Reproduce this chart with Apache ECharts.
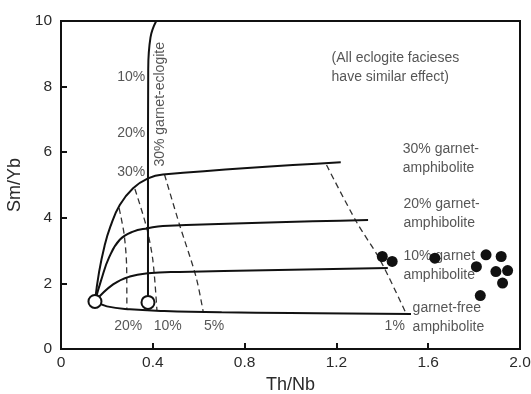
<!DOCTYPE html>
<html>
<head>
<meta charset="utf-8">
<script src="https://cdn.jsdelivr.net/npm/echarts@6/dist/echarts.min.js"></script>
<style>
  html, body { margin: 0; padding: 0; background: #fff; }
  #chart { width: 531px; height: 394px; }
</style>
</head>
<body>
<div id="chart"></div>
<script>
// Melting curves: Th/Nb (x) vs Sm/Yb (y)
const xTicks = [0, 0.4, 0.8, 1.2, 1.6, 2.0];
const yTicks = [0, 2, 4, 6, 8, 10];

const sourcePoints = [[0.148, 1.45], [0.379, 1.42]];

const curveGarnetFree = [[0.148, 1.45], [0.2, 1.3], [0.3, 1.21], [0.45, 1.16], [0.7, 1.12], [1.0, 1.1], [1.525, 1.07]];
const curve10Garnet = [[0.148, 1.45], [0.227, 1.97], [0.30, 2.21], [0.379, 2.31], [0.516, 2.35], [1.424, 2.47]];
const curve20Garnet = [[0.148, 1.45], [0.175, 2.1], [0.21, 2.8], [0.256, 3.33], [0.314, 3.58], [0.379, 3.68], [0.444, 3.75], [1.338, 3.93]];
const curve30Garnet = [[0.148, 1.45], [0.166, 2.35], [0.19, 3.15], [0.215, 3.73], [0.256, 4.39], [0.314, 4.9], [0.379, 5.2], [0.444, 5.32], [1.219, 5.69]];
const curveEclogite = [[0.379, 1.42], [0.379, 5.0], [0.38, 8.5], [0.39, 9.5], [0.415, 10.0]];

const melt20 = [[0.253, 4.3], [0.275, 3.5], [0.286, 2.5], [0.287, 1.2]];
const melt10 = [[0.322, 4.88], [0.372, 3.73], [0.40, 2.72], [0.418, 1.18]];
const melt5 = [[0.451, 5.32], [0.516, 3.8], [0.588, 2.21], [0.62, 1.12]];
const melt1 = [[1.157, 5.61], [1.287, 3.88], [1.39, 2.72], [1.503, 1.09]];

const samples = [
  [1.400, 2.82], [1.443, 2.67], [1.629, 2.77], [1.852, 2.87], [1.810, 2.51],
  [1.918, 2.82], [1.895, 2.36], [1.946, 2.39], [1.924, 2.01], [1.827, 1.63]
];

// Annotations placed in data coordinates: [x, y, text, align]
const notes = [
  [1.179, 8.57, '(All eclogite facieses\nhave similar effect)', 'left'],
  [1.489, 5.79, '30% garnet-\namphibolite', 'left'],
  [1.492, 4.14, '20% garnet-\namphibolite', 'left'],
  [1.492, 2.53, '10% garnet\namphibolite', 'left'],
  [1.532, 0.96, 'garnet-free\namphibolite', 'left'],
  [1.410, 0.71, '1%', 'left'],
  [0.293, 0.71, '20%', 'center'],
  [0.465, 0.71, '10%', 'center'],
  [0.667, 0.71, '5%', 'center'],
  [0.367, 8.28, '10%', 'right'],
  [0.367, 6.57, '20%', 'right'],
  [0.367, 5.40, '30%', 'right']
];
const eclogiteLabel = [[0.431, 7.46, '30% garnet-eclogite']];

const FONT = '"Liberation Sans", Arial, sans-serif';
const TEXT = '#2a2a2a';

function solid(data) {
  return {
    type: 'line', data: data, smooth: 0.45, symbol: 'none',
    lineStyle: { color: '#111', width: 2, opacity: 1 }, z: 3, silent: true
  };
}
function dashed(data) {
  return {
    type: 'line', data: data, smooth: 0.3, symbol: 'none',
    lineStyle: { color: '#333', width: 1.3, type: [6, 4], opacity: 1 }, z: 2, silent: true
  };
}

const chart = echarts.init(document.getElementById('chart'), null, { renderer: 'canvas' });
chart.setOption({
  animation: false,
  backgroundColor: '#fff',
  grid: {
    left: 61, top: 21, right: 11, bottom: 45, containLabel: false, outerBoundsMode: 'none',
    show: true, borderColor: '#111', borderWidth: 2
  },
  xAxis: {
    type: 'value', min: xTicks[0], max: xTicks[xTicks.length - 1], interval: 0.4,
    name: 'Th/Nb', nameLocation: 'middle', nameGap: 27,
    nameTextStyle: { fontFamily: FONT, fontSize: 18, color: TEXT },
    axisLine: { lineStyle: { color: '#111', width: 2 } },
    axisTick: { inside: true, length: 6, lineStyle: { color: '#111', width: 2 } },
    axisLabel: { fontFamily: FONT, fontSize: 15.5, color: TEXT, margin: 6,
      formatter: v => (v === 0 ? '0' : v.toFixed(1)) },
    splitLine: { show: false }
  },
  yAxis: {
    type: 'value', min: yTicks[0], max: yTicks[yTicks.length - 1], interval: 2,
    name: 'Sm/Yb', nameLocation: 'middle', nameGap: 28,
    nameTextStyle: { fontFamily: FONT, fontSize: 18, color: TEXT },
    axisLine: { lineStyle: { color: '#111', width: 2 } },
    axisTick: { inside: true, length: 6, lineStyle: { color: '#111', width: 2 } },
    axisLabel: { fontFamily: FONT, fontSize: 15.5, color: TEXT, margin: 9 },
    splitLine: { show: false }
  },
  series: [
    dashed(melt20), dashed(melt10), dashed(melt5), dashed(melt1),
    solid(curveGarnetFree), solid(curve10Garnet), solid(curve20Garnet), solid(curve30Garnet),
    solid(curveEclogite),
    {
      type: 'scatter', data: sourcePoints, symbol: 'circle', symbolSize: 13,
      itemStyle: { color: '#fff', borderColor: '#111', borderWidth: 2, opacity: 1 }, z: 5, silent: true
    },
    {
      type: 'scatter', data: samples, symbol: 'circle', symbolSize: 11,
      itemStyle: { color: '#111', opacity: 1 }, z: 6, silent: true
    },
    {
      type: 'scatter', symbolSize: 0, z: 4, silent: true,
      data: notes.map(n => ({ value: [n[0], n[1]], label: { align: n[3] } })),
      label: {
        show: true, position: 'inside', fontFamily: FONT, fontSize: 14, lineHeight: 19,
        color: TEXT, verticalAlign: 'middle',
        formatter: p => notes[p.dataIndex][2]
      }
    },
    {
      type: 'scatter', symbolSize: 0, z: 4, silent: true,
      data: eclogiteLabel.map(n => [n[0], n[1]]),
      label: {
        show: true, position: 'inside', rotate: 90, fontFamily: FONT, fontSize: 14,
        color: TEXT, align: 'center', verticalAlign: 'middle',
        formatter: p => eclogiteLabel[p.dataIndex][2]
      }
    }
  ]
});
</script>
</body>
</html>
